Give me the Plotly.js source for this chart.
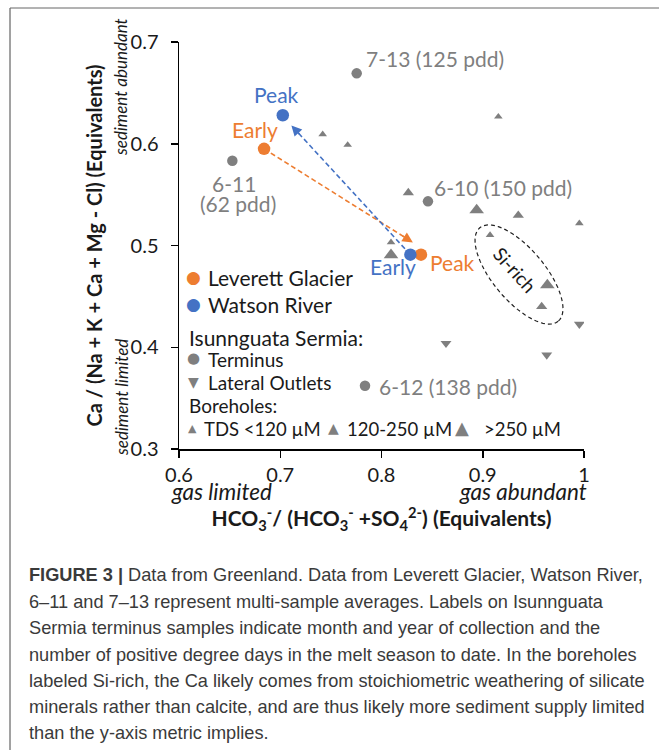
<!DOCTYPE html>
<html><head><meta charset="utf-8">
<script src="https://cdn.plot.ly/plotly-3.0.1.min.js"></script>
<style>html,body{margin:0;padding:0;background:#fff}#chart{width:659px;height:750px}</style>
</head><body><div id="chart"></div>
<script>
// ---------------- data ----------------
const leverettLabels = ['Early', 'Peak'];
const leverettX = [0.684, 0.839];
const leverettY = [0.595, 0.491];
const leverettArrowEnd = [0.831, 0.503];

const watsonLabels = ['Early', 'Peak'];
const watsonX = [0.8285, 0.7025];
const watsonY = [0.491, 0.628];
const watsonArrowEnd = [0.711, 0.618];

const terminusLabels = ['7-13 (125 pdd)', '6-11|(62 pdd)', '6-10 (150 pdd)', '6-12 (138 pdd)'];
const terminusX = [0.7755, 0.6527, 0.8459, 0.7837];
const terminusY = [0.6692, 0.5833, 0.5434, 0.3622];

const lateralX = [0.8637, 0.9632, 0.9954];
const lateralY = [0.4039, 0.3924, 0.4226];

const boreSmallX = [0.7419, 0.7666, 0.9154, 0.9072, 0.8094, 0.9954];
const boreSmallY = [0.6093, 0.5988, 0.6266, 0.5103, 0.5031, 0.5218];
const boreMedX = [0.8265, 0.9351, 0.9582];
const boreMedY = [0.5519, 0.5297, 0.4399];
const boreLargeX = [0.894, 0.9638, 0.8094];
const boreLargeY = [0.5349, 0.4612, 0.4907];

const xTickVals = [0.6, 0.7, 0.8, 0.9, 1.0];
const xTickText = ['0.6', '0.7', '0.8', '0.9', '1'];
const yTickVals = [0.3, 0.4, 0.5, 0.6, 0.7];
const yTickText = ['0.3', '0.4', '0.5', '0.6', '0.7'];

const captionLines = [
  '<b>FIGURE 3 |</b> Data from Greenland. Data from Leverett Glacier, Watson River,',
  '6–11 and 7–13 represent multi-sample averages. Labels on Isunnguata',
  'Sermia terminus samples indicate month and year of collection and the',
  'number of positive degree days in the melt season to date. In the boreholes',
  'labeled Si-rich, the Ca likely comes from stoichiometric weathering of silicate',
  'minerals rather than calcite, and are thus likely more sediment supply limited',
  'than the y-axis metric implies.'
];

// ---------------- layout constants ----------------
const W = 659, H = 750, ML = 179, MR = 75, MT = 42, MB = 301;
const PW = W - ML - MR, PH = H - MT - MB;
const XR = [0.6, 1.0], YR = [0.3, 0.7];
const pxX = PW / (XR[1] - XR[0]), pxY = PH / (YR[1] - YR[0]);
const px2paperX = p => (p - ML) / PW;
const px2paperY = p => (H - MB - p) / PH;

const ORANGE = '#ED7D31', BLUE = '#4472C4', GRAY = '#7F7F7F', TXT = '#1a1a1a';
const FONT = 'Lato, "Open Sans", sans-serif';
const GLYPH = '"DejaVu Sans", sans-serif';

const traces = [];
// dashed connecting lines
traces.push({x: [leverettX[0], leverettArrowEnd[0]], y: [leverettY[0], leverettArrowEnd[1]], mode: 'lines',
  line: {color: ORANGE, width: 1.6, dash: '5px,3px'}, hoverinfo: 'skip', showlegend: false});
traces.push({x: [watsonX[0], watsonArrowEnd[0]], y: [watsonY[0], watsonArrowEnd[1]], mode: 'lines',
  line: {color: BLUE, width: 1.6, dash: '5px,3px'}, hoverinfo: 'skip', showlegend: false});
// boreholes
traces.push({x: boreSmallX, y: boreSmallY, mode: 'markers', name: 'TDS <120 µM',
  marker: {symbol: 'triangle-up', size: 7.5, color: GRAY}, showlegend: false});
traces.push({x: boreMedX, y: boreMedY, mode: 'markers', name: '120-250 µM',
  marker: {symbol: 'triangle-up', size: 9.8, color: GRAY}, showlegend: false});
traces.push({x: boreLargeX, y: boreLargeY, mode: 'markers', name: '>250 µM',
  marker: {symbol: 'triangle-up', size: 12.7, color: GRAY}, showlegend: false});
// lateral outlets
traces.push({x: lateralX, y: lateralY, mode: 'markers', name: 'Lateral Outlets',
  marker: {symbol: 'triangle-down', size: 9.5, color: GRAY}, showlegend: false});
// terminus
traces.push({x: terminusX, y: terminusY, mode: 'markers', name: 'Terminus',
  marker: {symbol: 'circle', size: 10.5, color: GRAY}, showlegend: false});
// rivers
traces.push({x: leverettX, y: leverettY, mode: 'markers', name: 'Leverett Glacier',
  marker: {symbol: 'circle', size: 12.5, color: ORANGE}, showlegend: false});
traces.push({x: watsonX, y: watsonY, mode: 'markers', name: 'Watson River',
  marker: {symbol: 'circle', size: 12.5, color: BLUE}, showlegend: false});

const ann = [];
function arrowHead(start, end, color) {
  const tx = end[0] - 0.08 * (end[0] - start[0]);
  const ty = end[1] - 0.08 * (end[1] - start[1]);
  ann.push({x: end[0], y: end[1], ax: tx, ay: ty, xref: 'x', yref: 'y', axref: 'x', ayref: 'y',
    showarrow: true, arrowhead: 2, arrowsize: 1.3, arrowwidth: 1.6, arrowcolor: color, text: '', standoff: 0});
}
arrowHead([leverettX[0], leverettY[0]], leverettArrowEnd, ORANGE);
arrowHead([watsonX[0], watsonY[0]], watsonArrowEnd, BLUE);

function ptLabel(x, y, text, color, xanchor, xs, ys, size) {
  ann.push({x: x, y: y, xref: 'x', yref: 'y', text: text, showarrow: false, xanchor: xanchor, yanchor: 'middle',
    xshift: xs, yshift: ys, font: {family: FONT, size: size || 21, color: color}});
}
// river labels
ptLabel(leverettX[0], leverettY[0], leverettLabels[0], ORANGE, 'center', -9, 19);
ptLabel(leverettX[1], leverettY[1], leverettLabels[1], ORANGE, 'left', 7, -8);
ptLabel(watsonX[0], watsonY[0], watsonLabels[0], BLUE, 'center', -17, -12);
ptLabel(watsonX[1], watsonY[1], watsonLabels[1], BLUE, 'center', -6, 21);
// terminus labels
const tShift = [['left', 7, 15], ['center', 2, -23], ['left', 4, 14], ['left', 12, -1]];
terminusLabels.forEach((t, i) => {
  const parts = t.split('|');
  parts.forEach((p, j) => {
    ptLabel(terminusX[i], terminusY[i], p, GRAY, tShift[i][0], tShift[i][1] + j * 4, tShift[i][2] - j * 20);
  });
});

// free text helpers (pixel positions)
function txt(px, py, text, opt) {
  ann.push(Object.assign({x: px2paperX(px), y: px2paperY(py), xref: 'paper', yref: 'paper', text: text,
    showarrow: false, xanchor: 'left', yanchor: 'middle', font: {family: FONT, size: 19, color: TXT}}, opt || {}));
}
// italic axis side notes
txt(121, 87, '<i>sediment abundant</i>', {xanchor: 'center', textangle: -90, font: {family: FONT, size: 17, color: TXT}});
txt(121, 398, '<i>sediment limited</i>', {xanchor: 'center', textangle: -90, font: {family: FONT, size: 17, color: TXT}});
txt(221, 491, '<i>gas limited</i>', {xanchor: 'center', font: {family: FONT, size: 22.5, color: TXT}});
txt(523, 491, '<i>gas abundant</i>', {xanchor: 'center', font: {family: FONT, size: 22.5, color: TXT}});
// Si-rich
txt(515, 269, 'Si-rich', {xanchor: 'center', textangle: 48, font: {family: FONT, size: 19, color: TXT}});

// legend (text + glyphs)
txt(193, 277, '●', {xanchor: 'center', font: {family: GLYPH, size: 17, color: ORANGE}});
txt(206, 277, 'Leverett Glacier', {font: {family: FONT, size: 21, color: TXT}});
txt(193, 304, '●', {xanchor: 'center', font: {family: GLYPH, size: 17, color: BLUE}});
txt(206, 304, 'Watson River', {font: {family: FONT, size: 21, color: TXT}});
txt(187, 337, 'Isunnguata Sermia:', {font: {family: FONT, size: 21, color: TXT}});
txt(193, 358, '●', {xanchor: 'center', font: {family: GLYPH, size: 15, color: GRAY}});
txt(206, 359, 'Terminus');
txt(193, 382, '▼', {xanchor: 'center', font: {family: GLYPH, size: 14, color: GRAY}});
txt(206, 382, 'Lateral Outlets');
txt(187, 405, 'Boreholes:');
txt(192, 428, '▲', {xanchor: 'center', font: {family: GLYPH, size: 11, color: GRAY}});
txt(202, 429, 'TDS <120 µM', {font: {family: FONT, size: 18.5, color: TXT}});
txt(333, 428, '▲', {xanchor: 'center', font: {family: GLYPH, size: 14, color: GRAY}});
txt(345, 429, '120-250 µM', {font: {family: FONT, size: 18.5, color: TXT}});
txt(462, 427, '▲', {xanchor: 'center', font: {family: GLYPH, size: 18, color: GRAY}});
txt(482, 429, '>250 µM', {font: {family: FONT, size: 18.5, color: TXT}});

// caption
const capY = [575, 601.5, 628, 654.5, 681, 707, 733];
captionLines.forEach((l, i) => {
  txt(27, capY[i], l, {font: {family: '"Liberation Sans", Arial, sans-serif', size: 18.2, color: '#3a3a3a'}});
});

// Si-rich ellipse (pixel geometry converted to data units)
const ellC = [0.6 + (519 - ML) / pxX, 0.7 - (274.5 - MT) / pxY];
const ellA = 61, ellB = 26, ellRot = 50 * Math.PI / 180;
let ellPath = '';
for (let k = 0; k <= 72; k++) {
  const t = k / 72 * 2 * Math.PI;
  const dx = ellA * Math.cos(t) * Math.cos(ellRot) - ellB * Math.sin(t) * Math.sin(ellRot);
  const dy = ellA * Math.cos(t) * Math.sin(ellRot) + ellB * Math.sin(t) * Math.cos(ellRot);
  ellPath += (k === 0 ? 'M' : 'L') + (ellC[0] + dx / pxX).toFixed(5) + ',' + (ellC[1] - dy / pxY).toFixed(5);
}
ellPath += 'Z';

const shapes = [
  {type: 'path', xref: 'x', yref: 'y', path: ellPath, line: {color: '#222', width: 1.2, dash: '4px,3px'}},
  {type: 'line', xref: 'paper', yref: 'paper', x0: px2paperX(10), x1: px2paperX(10), y0: px2paperY(8), y1: px2paperY(750),
    line: {color: '#444', width: 1}},
  {type: 'line', xref: 'paper', yref: 'paper', x0: px2paperX(10), x1: px2paperX(659), y0: px2paperY(8), y1: px2paperY(8),
    line: {color: '#666', width: 1}}
];

const axisCommon = {showgrid: false, zeroline: false, showline: true, linecolor: '#000', linewidth: 1.5,
  ticks: 'outside', ticklen: 7, tickwidth: 1.5, tickcolor: '#000',
  tickfont: {family: FONT, size: 20, color: TXT}};

const layout = {
  width: W, height: H, margin: {l: ML, r: MR, t: MT, b: MB, autoexpand: false},
  paper_bgcolor: '#fff', plot_bgcolor: '#fff', showlegend: false,
  xaxis: Object.assign({}, axisCommon, {range: XR, tickvals: xTickVals, ticktext: xTickText, ticklabelstandoff: 0,
    title: {text: '<b>HCO<sub>3</sub><sup>-</sup>/ (HCO<sub>3</sub><sup>-</sup> +SO<sub>4</sub><sup>2-</sup>) (Equivalents)</b>',
      font: {family: FONT, size: 21, color: TXT}, standoff: 27}}),
  yaxis: Object.assign({}, axisCommon, {range: YR, tickvals: yTickVals, ticktext: yTickText, ticklabelstandoff: 8,
    title: {text: '<b>Ca / (Na + K + Ca + Mg - Cl) (Equivalents)</b>', font: {family: FONT, size: 20, color: TXT}, standoff: 22}}),
  xaxis2: {overlaying: 'x', side: 'top', range: XR, tickvals: xTickVals, showticklabels: false, ticks: 'inside',
    ticklen: 5, tickwidth: 1.5, tickcolor: '#000', showline: true, linecolor: '#000', linewidth: 1.5, showgrid: false, zeroline: false},
  yaxis2: {overlaying: 'y', side: 'right', range: YR, tickvals: yTickVals, showticklabels: false, ticks: 'inside',
    ticklen: 5, tickwidth: 1.5, tickcolor: '#000', showline: true, linecolor: '#000', linewidth: 1.5, showgrid: false, zeroline: false},
  annotations: ann, shapes: shapes
};

Plotly.newPlot('chart', traces, layout, {displayModeBar: false, staticPlot: true});
</script></body></html>
